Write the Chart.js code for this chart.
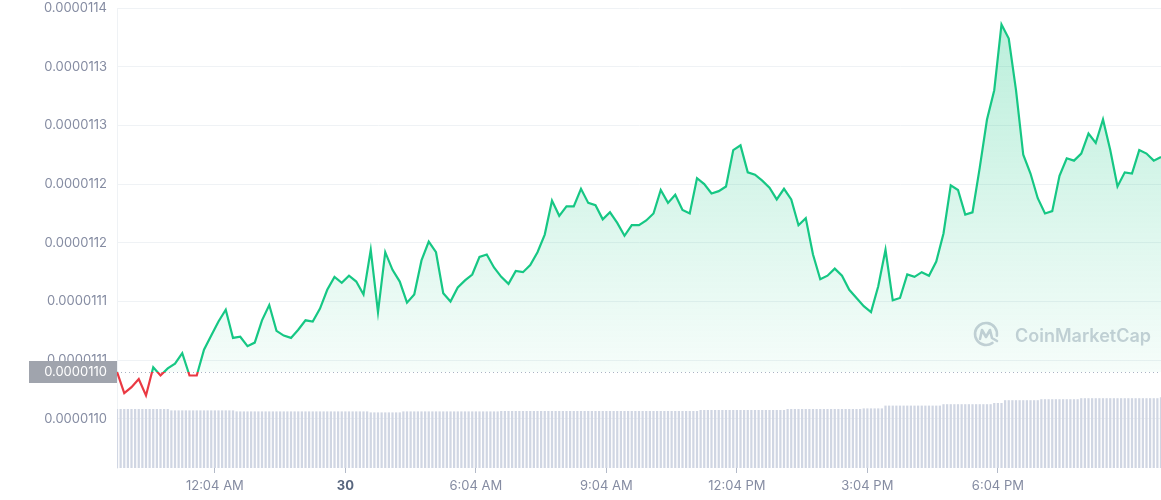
<!DOCTYPE html>
<html>
<head>
<meta charset="utf-8">
<script src="https://cdn.jsdelivr.net/npm/chart.js@4.4.1/dist/chart.umd.min.js"></script>
<style>
    html, body { margin: 0; padding: 0; background: #fff; }
    #wrap { width: 1161px; height: 500px; position: relative; }
</style>
</head>
<body>
<div id="wrap"><canvas id="priceChart"></canvas></div>
<script>
// 24h window, one price every 10 min, one volume bar every 5 min (minutes from 9:49 PM)
const priceStepMin = 10;
const volumeStepMin = 5;
const openPrice = 1.1090e-5;
const openLabel = '0.0000110';

const prices = [
    1.1090e-5, 1.1072e-5, 1.1077e-5, 1.1084e-5, 1.1070e-5, 1.1094e-5, 1.1087e-5, 1.1093e-5, 1.1097e-5, 1.1106e-5,
    1.1087e-5, 1.1087e-5, 1.1109e-5, 1.1121e-5, 1.1133e-5, 1.1143e-5, 1.1119e-5, 1.1120e-5, 1.1112e-5, 1.1115e-5,
    1.1134e-5, 1.1147e-5, 1.1125e-5, 1.1121e-5, 1.1119e-5, 1.1126e-5, 1.1134e-5, 1.1133e-5, 1.1144e-5, 1.1160e-5,
    1.1171e-5, 1.1166e-5, 1.1172e-5, 1.1167e-5, 1.1156e-5, 1.1194e-5, 1.1141e-5, 1.1192e-5, 1.1177e-5, 1.1167e-5,
    1.1149e-5, 1.1156e-5, 1.1185e-5, 1.1201e-5, 1.1192e-5, 1.1157e-5, 1.1150e-5, 1.1162e-5, 1.1168e-5, 1.1173e-5,
    1.1188e-5, 1.1190e-5, 1.1179e-5, 1.1171e-5, 1.1165e-5, 1.1176e-5, 1.1175e-5, 1.1181e-5, 1.1192e-5, 1.1207e-5,
    1.1236e-5, 1.1223e-5, 1.1231e-5, 1.1231e-5, 1.1246e-5, 1.1234e-5, 1.1232e-5, 1.1220e-5, 1.1226e-5, 1.1217e-5,
    1.1206e-5, 1.1215e-5, 1.1215e-5, 1.1219e-5, 1.1225e-5, 1.1245e-5, 1.1234e-5, 1.1241e-5, 1.1228e-5, 1.1225e-5,
    1.1255e-5, 1.1250e-5, 1.1242e-5, 1.1244e-5, 1.1248e-5, 1.1279e-5, 1.1283e-5, 1.1260e-5, 1.1258e-5, 1.1253e-5,
    1.1247e-5, 1.1237e-5, 1.1246e-5, 1.1237e-5, 1.1215e-5, 1.1221e-5, 1.1190e-5, 1.1169e-5, 1.1172e-5, 1.1178e-5,
    1.1172e-5, 1.1160e-5, 1.1153e-5, 1.1146e-5, 1.1141e-5, 1.1163e-5, 1.1194e-5, 1.1151e-5, 1.1153e-5, 1.1173e-5,
    1.1171e-5, 1.1175e-5, 1.1172e-5, 1.1184e-5, 1.1208e-5, 1.1249e-5, 1.1245e-5, 1.1224e-5, 1.1226e-5, 1.1264e-5,
    1.1305e-5, 1.1330e-5, 1.1386e-5, 1.1374e-5, 1.1330e-5, 1.1275e-5, 1.1259e-5, 1.1238e-5, 1.1225e-5, 1.1227e-5,
    1.1257e-5, 1.1272e-5, 1.1270e-5, 1.1276e-5, 1.1293e-5, 1.1285e-5, 1.1305e-5, 1.1279e-5, 1.1248e-5, 1.1260e-5,
    1.1259e-5, 1.1279e-5, 1.1276e-5, 1.1270e-5, 1.1273e-5
];

const volumes = [
    2.95, 2.95, 2.95, 2.95, 2.95, 2.95, 2.95, 2.95, 2.95, 2.95, 2.95, 2.95, 2.95, 2.95, 2.95,
    2.88, 2.88, 2.88, 2.88, 2.88, 2.88, 2.88, 2.88, 2.88, 2.88, 2.88, 2.88, 2.88, 2.88, 2.88, 2.88, 2.88, 2.88,
    2.83, 2.83, 2.83, 2.83, 2.83, 2.83, 2.83, 2.83, 2.83, 2.83, 2.83, 2.83, 2.83, 2.83, 2.83, 2.83, 2.83, 2.83, 2.83,
    2.83, 2.83, 2.83, 2.83, 2.83, 2.83, 2.83, 2.83, 2.83, 2.83, 2.83, 2.83, 2.83, 2.83, 2.83, 2.83, 2.83, 2.83,
    2.78, 2.78, 2.78, 2.78, 2.78, 2.78, 2.78, 2.78, 2.78,
    2.83, 2.83, 2.83, 2.83, 2.83, 2.83, 2.83, 2.83, 2.83, 2.83, 2.83, 2.83, 2.83, 2.83,
    2.83, 2.83, 2.83, 2.83, 2.83, 2.83, 2.83, 2.83, 2.83, 2.83, 2.83, 2.83, 2.83,
    2.85, 2.85, 2.85, 2.85, 2.85, 2.85, 2.85, 2.85, 2.85, 2.85, 2.85,
    2.85, 2.85, 2.85, 2.85, 2.85, 2.85, 2.85, 2.85, 2.85, 2.85, 2.85,
    2.85, 2.85, 2.85, 2.85, 2.85, 2.85, 2.85, 2.85, 2.85, 2.85, 2.85,
    2.85, 2.85, 2.85, 2.85, 2.85, 2.85, 2.85, 2.85, 2.85, 2.85, 2.85,
    2.85, 2.85, 2.85, 2.85, 2.85, 2.85, 2.85, 2.85, 2.85, 2.85, 2.85,
    2.90, 2.90, 2.90, 2.90, 2.90, 2.90, 2.90, 2.90, 2.90, 2.90, 2.90, 2.90,
    2.90, 2.90, 2.90, 2.90, 2.90, 2.90, 2.90, 2.90, 2.90, 2.90, 2.90, 2.90,
    2.95, 2.95, 2.95, 2.95, 2.95, 2.95, 2.95, 2.95, 2.95, 2.95, 2.95,
    2.95, 2.95, 2.95, 2.95, 2.95, 2.95, 2.95, 2.95, 2.95, 2.95,
    2.98, 2.98, 2.98, 2.98, 2.98, 2.98,
    3.12, 3.12, 3.12, 3.12, 3.12, 3.12, 3.12, 3.12, 3.12, 3.12, 3.12, 3.12, 3.12, 3.12, 3.12, 3.12,
    3.19, 3.19, 3.19, 3.19, 3.19, 3.19, 3.19, 3.19, 3.19, 3.19, 3.19, 3.19, 3.19, 3.19,
    3.25, 3.25, 3.25,
    3.39, 3.39, 3.39, 3.39, 3.39, 3.39, 3.39, 3.39, 3.39, 3.39,
    3.44, 3.44, 3.44, 3.44, 3.44, 3.44, 3.44, 3.44, 3.44, 3.44, 3.44,
    3.49, 3.49, 3.49, 3.49, 3.49, 3.49, 3.49, 3.49, 3.49, 3.49, 3.49,
    3.49, 3.49, 3.49, 3.49, 3.49, 3.49, 3.49, 3.49, 3.49, 3.49, 3.49,
    3.54
];

const xTickMinutes = [135, 315, 495, 675, 855, 1035, 1215];
const xTickLabels = ['12:04 AM', '30', '6:04 AM', '9:04 AM', '12:04 PM', '3:04 PM', '6:04 PM'];
const yTickValues = [1.105e-5, 1.110e-5, 1.115e-5, 1.120e-5, 1.125e-5, 1.130e-5, 1.135e-5, 1.140e-5];
const yTickLabels = ['0.0000110', '0.0000111', '0.0000111', '0.0000112', '0.0000112', '0.0000113', '0.0000113', '0.0000114'];

const GREEN = '#16c784';
const RED = '#ea3943';
const TEXT_GREY = '#858ca2';

Chart.defaults.font.family = 'Inter, "Noto Sans", sans-serif';

function splitStroke(context) {
    const chart = context.chart;
    const area = chart.chartArea;
    if (!area) return GREEN;
    const yBase = chart.scales.y.getPixelForValue(openPrice);
    const f = Math.min(Math.max((yBase - area.top) / (area.bottom - area.top), 0), 1);
    const g = chart.ctx.createLinearGradient(0, area.top, 0, area.bottom);
    g.addColorStop(0, GREEN);
    g.addColorStop(f, GREEN);
    g.addColorStop(f, RED);
    g.addColorStop(1, RED);
    return g;
}

function areaFill(context) {
    const chart = context.chart;
    const area = chart.chartArea;
    if (!area) return 'rgba(22,199,132,0.1)';
    const yBase = chart.scales.y.getPixelForValue(openPrice);
    const g = chart.ctx.createLinearGradient(0, area.top, 0, yBase);
    g.addColorStop(0, 'rgba(22,199,132,0.30)');
    g.addColorStop(1, 'rgba(22,199,132,0.04)');
    return g;
}

const refLinePlugin = {
    id: 'refLine',
    beforeDatasetsDraw(chart) {
        const { ctx, chartArea: a } = chart;
        const py = Math.round(chart.scales.y.getPixelForValue(openPrice)) + 0.5;
        ctx.save();
        ctx.strokeStyle = '#aab3c4';
        ctx.lineWidth = 1;
        ctx.setLineDash([1, 3]);
        ctx.beginPath();
        ctx.moveTo(a.left, py);
        ctx.lineTo(a.right, py);
        ctx.stroke();
        ctx.restore();

        // watermark
        const cx = a.right - 175, cy = 334;
        ctx.save();
        ctx.strokeStyle = '#cbd0d9';
        ctx.fillStyle = '#cbd0d9';
        ctx.lineWidth = 2.6;
        ctx.lineCap = 'round';
        ctx.lineJoin = 'round';
        ctx.beginPath();
        ctx.arc(cx, cy, 11, 0.3 * Math.PI, 2.05 * Math.PI);
        ctx.stroke();
        ctx.beginPath();
        ctx.moveTo(cx - 6, cy + 5);
        ctx.lineTo(cx - 4, cy - 4);
        ctx.lineTo(cx, cy + 3);
        ctx.lineTo(cx + 4, cy - 4);
        ctx.lineTo(cx + 6, cy + 4);
        ctx.lineTo(cx + 11, cy + 7);
        ctx.stroke();
        ctx.font = '600 18px Inter, sans-serif';
        ctx.textAlign = 'left';
        ctx.textBaseline = 'alphabetic';
        ctx.fillText('CoinMarketCap', cx + 29, cy + 8);
        ctx.restore();
    },
    afterDraw(chart) {
        const { ctx, chartArea: a } = chart;
        const py = Math.round(chart.scales.y.getPixelForValue(openPrice));
        ctx.save();
        ctx.fillStyle = '#a0a4ad';
        ctx.fillRect(29, py - 11, a.left - 29, 22);
        ctx.fillStyle = '#ffffff';
        ctx.font = '13px Inter, sans-serif';
        ctx.textAlign = 'right';
        ctx.textBaseline = 'middle';
        ctx.fillText(openLabel, a.left - 10, py);
        ctx.restore();
    }
};

const ctx = document.getElementById('priceChart');
new Chart(ctx, {
    type: 'line',
    data: {
        datasets: [
            {
                type: 'line',
                label: 'Price',
                data: prices.map((p, i) => ({ x: i * priceStepMin, y: p })),
                borderColor: splitStroke,
                backgroundColor: areaFill,
                borderWidth: 2.2,
                pointRadius: 0,
                tension: 0,
                fill: { target: { value: openPrice }, below: 'rgba(0,0,0,0)' },
                yAxisID: 'y',
                order: 0,
            },
            {
                type: 'bar',
                label: 'Volume',
                data: volumes.map((v, i) => ({ x: i * volumeStepMin, y: v })),
                backgroundColor: '#d0d6e3',
                barPercentage: 0.62,
                categoryPercentage: 1,
                yAxisID: 'yVol',
                order: 1,
            },
        ],
    },
    options: {
        responsive: true,
        maintainAspectRatio: false,
        animation: false,
        layout: { padding: 0 },
        plugins: {
            legend: { display: false },
            tooltip: { enabled: false },
        },
        scales: {
            x: {
                type: 'linear',
                min: 0,
                max: 1440,
                offset: false,
                afterBuildTicks(scale) {
                    scale.ticks = xTickMinutes.map(v => ({ value: v }));
                },
                afterFit(scale) { scale.height = 32; },
                grid: { offset: false, drawOnChartArea: false, drawTicks: true, tickLength: 5, color: '#b3bac8' },
                border: { display: false },
                ticks: {
                    autoSkip: false,
                    maxRotation: 0,
                    padding: 5,
                    callback: (value, index) => xTickLabels[index],
                    color: ctx => (xTickLabels[ctx.index] === '30' ? '#58667e' : TEXT_GREY),
                    font: ctx => (xTickLabels[ctx.index] === '30'
                        ? { size: 13, weight: '700' }
                        : { size: 13 }),
                },
            },
            y: {
                position: 'left',
                min: 1.10082e-5,
                max: 1.140e-5,
                afterBuildTicks(scale) {
                    scale.ticks = yTickValues.map(v => ({ value: v }));
                },
                afterFit(scale) {
                    scale.width = 117;
                    scale.paddingTop = 8;
                    scale.paddingBottom = 0;
                },
                grid: { color: '#eff2f5', drawTicks: false },
                border: { color: '#eff2f5' },
                ticks: {
                    padding: 10,
                    color: TEXT_GREY,
                    font: { size: 13 },
                    callback: (value, index) => yTickLabels[index],
                },
            },
            yVol: {
                display: false,
                min: 0,
                max: 23,
            },
        },
    },
    plugins: [refLinePlugin],
});
</script>
</body>
</html>
